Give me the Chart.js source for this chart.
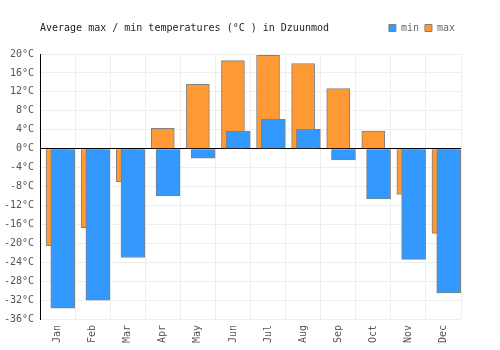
<!DOCTYPE html>
<html>
<head>
<meta charset="utf-8">
<script src="https://cdn.jsdelivr.net/npm/chart.js@4.4.0/dist/chart.umd.min.js"></script>
<style>
html, body { margin: 0; padding: 0; background: #fff; }
#wrap { position: relative; width: 500px; height: 350px; }
#title { position: absolute; left: 40px; top: 22px; font: 10px "DejaVu Sans Mono", monospace; color: #222; white-space: pre; }
</style>
</head>
<body>
<div id="wrap">
  <div id="title">Average max / min temperatures (°C ) in Dzuunmod</div>
  <canvas id="tempChart" width="500" height="350"></canvas>
</div>
<script>
const months = ['Jan', 'Feb', 'Mar', 'Apr', 'May', 'Jun', 'Jul', 'Aug', 'Sep', 'Oct', 'Nov', 'Dec'];
const minTemps = [-33.7, -32.0, -23.0, -10.0, -2.0, 3.7, 6.2, 4.1, -2.4, -10.6, -23.4, -30.5];
const maxTemps = [-20.5, -16.7, -7.0, 4.3, 13.6, 18.6, 19.7, 18.0, 12.7, 3.7, -9.7, -17.9];
const yMin = -36, yMax = 20, yStep = 4;

const monoFont = { family: '"DejaVu Sans Mono", monospace', size: 10 };

// leave some room under the legend row
const legendGap = {
    id: 'legendGap',
    beforeInit(chart) {
        const fit = chart.legend.fit;
        chart.legend.fit = function () {
            fit.call(this);
            this.height += 11;
        };
    }
};

const ctx = document.getElementById('tempChart').getContext('2d');
new Chart(ctx, {
    type: 'bar',
    data: {
        labels: months,
        datasets: [{
            label: 'min',
            // min bars sit on a hidden numeric axis so they can be nudged right of the max bars
            data: minTemps.map((v, i) => ({ x: i, y: v })),
            xAxisID: 'x2',
            backgroundColor: '#3399ff',
            borderColor: '#808080',
            borderWidth: 1,
            barThickness: 24,
            grouped: false
        }, {
            label: 'max',
            data: maxTemps,
            xAxisID: 'x',
            backgroundColor: '#ff9933',
            borderColor: '#808080',
            borderWidth: 1,
            barThickness: 23,
            grouped: false
        }]
    },
    options: {
        responsive: false,
        animation: false,
        layout: { padding: { left: 0, right: 39, top: 17, bottom: 0 } },
        plugins: {
            tooltip: { enabled: false },
            legend: {
                position: 'top',
                align: 'end',
                labels: {
                    boxWidth: 7,
                    boxHeight: 7,
                    padding: 6,
                    color: '#666',
                    font: monoFont
                }
            }
        },
        scales: {
            x: {
                type: 'category',
                offset: true,
                grid: { color: '#eeeeee', offset: true, drawTicks: false },
                border: { display: false },
                ticks: { minRotation: 90, maxRotation: 90, padding: 6, color: '#555', font: monoFont },
                afterFit: (s) => { s.height = 31; }
            },
            x2: {
                type: 'linear',
                display: false,
                offset: false,
                min: -0.65,
                max: months.length - 0.65
            },
            y: {
                min: yMin,
                max: yMax,
                ticks: {
                    stepSize: yStep,
                    padding: 6,
                    color: '#555',
                    font: monoFont,
                    callback: (v) => v + '°C'
                },
                grid: {
                    color: (c) => (c.tick && c.tick.value === 0) ? '#000' : '#eeeeee',
                    drawTicks: false
                },
                border: { color: '#000' },
                afterFit: (s) => { s.width = 40; }
            }
        }
    },
    plugins: [legendGap]
});
</script>
</body>
</html>
